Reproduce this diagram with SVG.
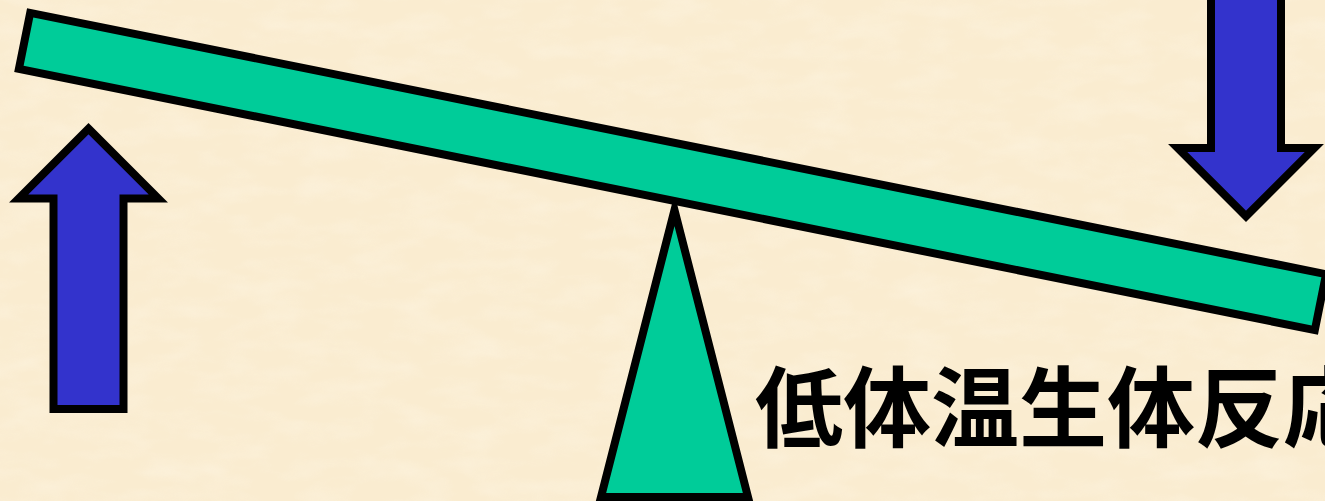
<svg xmlns="http://www.w3.org/2000/svg" width="1325" height="501" viewBox="0 0 1325 501">
  <defs>
    <style>
      .shape { stroke: #000; stroke-width: 8; stroke-linejoin: miter; stroke-miterlimit: 10; }
      .green { fill: #00CC99; }
      .blue { fill: #3333CC; }
      .label { font-family: "Noto Sans CJK JP", "Noto Sans CJK SC", sans-serif; font-weight: bold; font-size: 88px; fill: #000; }
    </style>
    <!-- soft parchment grain for the backdrop -->
    <filter id="grain" x="0" y="0" width="100%" height="100%">
      <feTurbulence type="fractalNoise" baseFrequency="0.02 0.05" numOctaves="3" seed="7" result="noise"/>
      <feColorMatrix in="noise" type="matrix"
        values="0 0 0 0 1
                0 0 0 0 0.96
                0 0 0 0 0.86
                0 0 0 0.9 -0.35"/>
    </filter>
  </defs>

  <!-- backdrop -->
  <rect width="1325" height="501" fill="#FAECD0"/>
  <rect width="1325" height="501" filter="url(#grain)" opacity="0.6"/>

  <!-- fulcrum -->
  <g id="fulcrum">
    <polygon class="shape green" points="674.5,210 601,497 748,497"/>
  </g>

  <!-- tilted beam -->
  <g id="beam">
    <rect class="shape green" x="-661" y="-28.5" width="1322" height="57" transform="translate(672.5,171.5) rotate(11.4)"/>
  </g>

  <!-- upward force on the raised end -->
  <g id="arrow-up">
    <polygon class="shape blue" points="88.5,128.7 158.3,198.5 123.5,198.5 123.5,409 53.5,409 53.5,198.5 18.7,198.5"/>
  </g>

  <!-- downward force on the lowered end -->
  <g id="arrow-down">
    <polygon class="shape blue" points="1211,-10 1281,-10 1281,148 1314.3,148 1246,216.3 1177.7,148 1211,148"/>
  </g>

  <g id="caption">
    <text class="label" x="755" y="440">低体温生体反応</text>
  </g>
</svg>
